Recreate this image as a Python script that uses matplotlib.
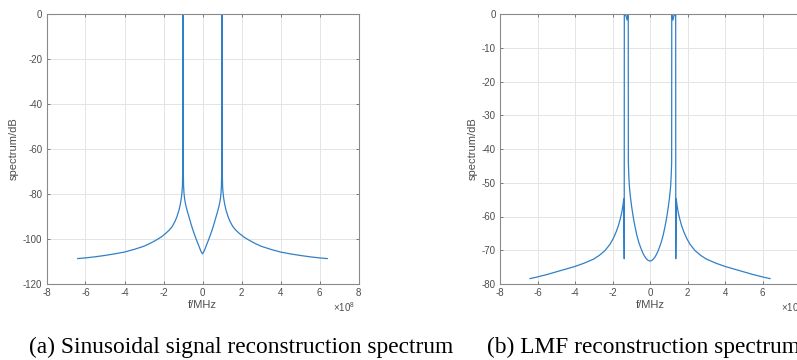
import matplotlib
matplotlib.use("Agg")
import matplotlib.pyplot as plt
import numpy as np

# frequency in units of 1e8 (the axes carry a x10^8 multiplier)
sin_f = [-6.4, -6.0, -5.5, -5.0, -4.5, -4.0, -3.5, -3.0, -2.7, -2.4, -2.1, -1.9, -1.7, -1.55,
         -1.4, -1.3, -1.2, -1.13, -1.08, -1.05, -1.03, -1.015, -1.0,
         -0.985, -0.97, -0.95, -0.92, -0.87, -0.8, -0.7, -0.6, -0.5, -0.4, -0.3, -0.2, -0.12, -0.06,
         0.0,
         0.06, 0.12, 0.2, 0.3, 0.4, 0.5, 0.6, 0.7, 0.8, 0.87, 0.92, 0.95, 0.97, 0.985,
         1.0, 1.015, 1.03, 1.05, 1.08, 1.13, 1.2, 1.3, 1.4,
         1.55, 1.7, 1.9, 2.1, 2.4, 2.7, 3.0, 3.5, 4.0, 4.5, 5.0, 5.5, 6.0, 6.4]
sin_db = [-108.7, -108.4, -107.9, -107.3, -106.6, -105.8, -104.6, -103.2, -102.0, -100.6, -99.0, -97.6, -96.0, -94.4,
          -92.0, -89.8, -87.0, -84.2, -81.5, -79.0, -76.5, -70.0, 5.0,
          -70.0, -76.5, -79.5, -82.0, -84.5, -87.0, -90.0, -93.0, -95.8, -98.3, -100.6, -102.8, -104.6, -105.8,
          -106.6,
          -105.8, -104.6, -102.8, -100.6, -98.3, -95.8, -93.0, -90.0, -87.0, -84.5, -82.0, -79.5, -76.5, -70.0,
          5.0, -70.0, -76.5, -79.0, -81.5, -84.2, -87.0, -89.8, -92.0,
          -94.4, -96.0, -97.6, -99.0, -100.6, -102.0, -103.2, -104.6, -105.8, -106.6, -107.3, -107.9, -108.4, -108.7]

lmf_f = [-6.4, -6.0, -5.5, -5.0, -4.5, -4.0, -3.5, -3.0, -2.7, -2.4, -2.13, -1.95, -1.8, -1.68,
         -1.58, -1.5, -1.44, -1.4, -1.375, -1.37, -1.28, -1.22, -1.18, -1.16,
         -1.155, -1.13, -1.1, -1.05, -0.98, -0.9, -0.8, -0.7, -0.6, -0.5, -0.4, -0.3, -0.2, -0.1,
         0.0,
         0.1, 0.2, 0.3, 0.4, 0.5, 0.6, 0.7, 0.8, 0.9, 0.98, 1.05, 1.1, 1.13, 1.155,
         1.16, 1.18, 1.22, 1.28, 1.37, 1.375, 1.4, 1.44, 1.5, 1.58,
         1.68, 1.8, 1.95, 2.13, 2.4, 2.7, 3.0, 3.5, 4.0, 4.5, 5.0, 5.5, 6.0, 6.4]
lmf_db = [-78.4, -77.9, -77.2, -76.4, -75.6, -74.8, -73.8, -72.6, -71.5, -70.1, -68.2, -66.4, -64.5, -62.6,
          -60.6, -58.6, -56.6, -54.8, -72.5, -0.3, -0.5, -1.8, -0.5, -0.3,
          -44.0, -48.0, -51.0, -54.0, -57.0, -60.0, -63.0, -65.6, -67.6, -69.2, -70.6, -71.7, -72.5, -73.0,
          -73.2,
          -73.0, -72.5, -71.7, -70.6, -69.2, -67.6, -65.6, -63.0, -60.0, -57.0, -54.0, -51.0, -48.0, -44.0,
          -0.3, -0.5, -1.8, -0.5, -0.3, -72.5, -54.8, -56.6, -58.6, -60.6,
          -62.6, -64.5, -66.4, -68.2, -70.1, -71.5, -72.6, -73.8, -74.8, -75.6, -76.4, -77.2, -77.9, -78.4]

xticks = [-8, -6, -4, -2, 0, 2, 4, 6, 8]
sin_yticks = [-120, -100, -80, -60, -40, -20, 0]
lmf_yticks = [-80, -70, -60, -50, -40, -30, -20, -10, 0]

LINE = "#2f80c8"
TXT = "#4d4d4d"

plt.rcParams["font.family"] = ["Liberation Sans", "DejaVu Sans"]
plt.rcParams["mathtext.fontset"] = "custom"
plt.rcParams["mathtext.rm"] = "Liberation Sans"


def style_axes(ax, yticks, xlabels, exp_x):
    ax.set_xlim(-8e8, 8e8)
    ax.set_ylim(yticks[0], yticks[-1])
    ax.set_xticks([t * 1e8 for t in xticks], labels=xlabels)
    ax.set_yticks(yticks, labels=[str(t) for t in yticks])
    ax.grid(True, color="#e4e4e4", linewidth=0.7)
    ax.set_axisbelow(True)
    ax.tick_params(direction="in", length=2.5, width=0.6, top=True, right=True,
                   labelsize=7, colors="#666666", labelcolor=TXT, pad=3)
    for s in ax.spines.values():
        s.set_color("#8a8a8a")
        s.set_linewidth(0.8)
    ax.text(exp_x, -0.085, r"$\times\mathregular{10^{8}}$", transform=ax.transAxes,
            ha="right", va="center", fontsize=7, color=TXT)
    ax.set_xlabel("f/MHz", fontsize=8, color=TXT, labelpad=1)
    ax.set_ylabel("spectrum/dB", fontsize=8, color=TXT, labelpad=3)


fig = plt.figure(figsize=(7.97, 3.6), dpi=100)

ax1 = fig.add_axes([46.5 / 797, 76 / 360, 312 / 797, 270 / 360])
ax1.plot(np.array(sin_f) * 1e8, sin_db, color=LINE, linewidth=0.9)
style_axes(ax1, sin_yticks, [str(t) for t in xticks], 0.99)

# the right panel is cropped at the image edge, so its last tick label is not shown
ax2 = fig.add_axes([500 / 797, 76 / 360, 300 / 797, 270 / 360])
ax2.plot(np.array(lmf_f) * 1e8, lmf_db, color=LINE, linewidth=0.9)
style_axes(ax2, lmf_yticks, [str(t) for t in xticks[:-1]] + [""], 1.01)

fig.text(241 / 797, 6.7 / 360, "(a) Sinusoidal signal reconstruction spectrum",
         family=["Liberation Serif"], fontsize=16.8, ha="center", va="baseline")
fig.text(487 / 797, 6.7 / 360, "(b) LMF reconstruction spectrum",
         family=["Liberation Serif"], fontsize=16.8, ha="left", va="baseline")

fig.savefig("out.png", dpi=100)
